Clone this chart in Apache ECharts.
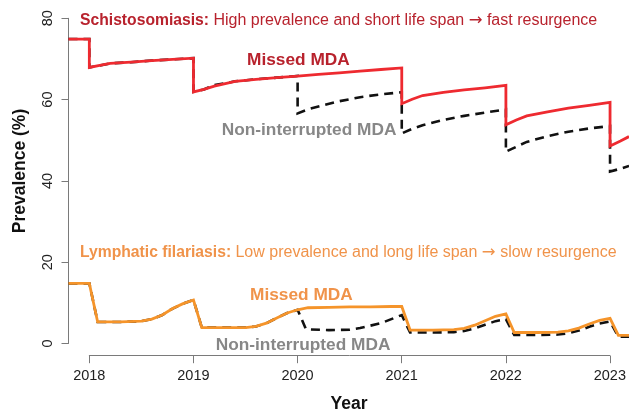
<!DOCTYPE html>
<html>
<head>
<meta charset="utf-8">
<script src="https://cdn.jsdelivr.net/npm/echarts@6/dist/echarts.min.js"></script>
<style>
  html, body { margin: 0; padding: 0; background: #ffffff; }
  #chart { width: 629px; height: 413px; }
</style>
</head>
<body>
<div id="chart"></div>
<script>
// ---- Data ----
const yearTicks = [2018, 2019, 2020, 2021, 2022, 2023];
const prevalenceTicks = [0, 20, 40, 60, 80];

// Schistosomiasis – missed MDA (red, solid)
const schMissedYears = [2017.8, 2018.0, 2018.0, 2018.1, 2018.2, 2018.4, 2018.6, 2018.8, 2019.0, 2019.0, 2019.1, 2019.2, 2019.4, 2019.6, 2019.8, 2020.0, 2020.2, 2020.4, 2020.6, 2020.8, 2021.0, 2021.0, 2021.1, 2021.2, 2021.4, 2021.6, 2021.8, 2022.0, 2022.0, 2022.1, 2022.2, 2022.4, 2022.6, 2022.8, 2023.0, 2023.0, 2023.1, 2023.182];
const schMissedPrev  = [74.9, 74.9, 67.9, 68.4, 68.9, 69.2, 69.6, 69.9, 70.2, 61.9, 62.5, 63.3, 64.5, 65.0, 65.4, 65.8, 66.2, 66.6, 67.0, 67.4, 67.8, 59.0, 60.1, 61.0, 61.8, 62.4, 62.9, 63.5, 53.8, 55.0, 56.0, 57.0, 57.9, 58.6, 59.3, 48.6, 49.8, 50.9];

// Schistosomiasis – non-interrupted MDA (black, dashed)
const schNonIntYears = [2017.8, 2018.0, 2018.0, 2018.1, 2018.2, 2018.4, 2018.6, 2018.8, 2019.0, 2019.0, 2019.1, 2019.2, 2019.3, 2019.4, 2019.6, 2019.8, 2020.0, 2020.0, 2020.1, 2020.2, 2020.4, 2020.6, 2020.8, 2021.0, 2021.0, 2021.1, 2021.2, 2021.4, 2021.6, 2021.8, 2022.0, 2022.0, 2022.1, 2022.2, 2022.4, 2022.6, 2022.8, 2023.0, 2023.0, 2023.1, 2023.182];
const schNonIntPrev  = [74.9, 74.9, 67.9, 68.4, 68.9, 69.2, 69.6, 69.9, 70.2, 61.9, 62.5, 63.6, 64.0, 64.5, 65.0, 65.4, 65.8, 56.6, 57.6, 58.3, 59.6, 60.6, 61.3, 61.8, 51.7, 52.8, 53.7, 55.0, 56.0, 56.8, 57.6, 47.2, 48.4, 49.6, 51.0, 52.1, 52.9, 53.5, 42.3, 43.0, 43.7];

// Lymphatic filariasis – missed MDA (orange, solid)
const lfMissedYears = [2017.8, 2018.0, 2018.08, 2018.3, 2018.5, 2018.6, 2018.7, 2018.8, 2018.9, 2019.0, 2019.08, 2019.3, 2019.5, 2019.6, 2019.7, 2019.8, 2019.9, 2020.0, 2020.1, 2020.3, 2020.5, 2020.7, 2020.9, 2021.0, 2021.08, 2021.3, 2021.5, 2021.6, 2021.7, 2021.8, 2021.9, 2022.0, 2022.08, 2022.3, 2022.5, 2022.6, 2022.7, 2022.8, 2022.9, 2023.0, 2023.08, 2023.182];
const lfMissedPrev  = [14.8, 14.8, 5.3, 5.3, 5.5, 6.0, 7.0, 8.6, 9.8, 10.7, 3.9, 3.9, 3.9, 4.2, 5.0, 6.3, 7.5, 8.3, 8.8, 8.9, 9.0, 9.0, 9.1, 9.1, 3.3, 3.3, 3.4, 3.7, 4.5, 5.6, 6.7, 7.3, 2.7, 2.7, 2.8, 3.1, 3.8, 4.8, 5.7, 6.2, 2.0, 2.0];

// Lymphatic filariasis – non-interrupted MDA (black, dashed)
const lfNonIntYears = [2017.8, 2018.0, 2018.08, 2018.3, 2018.5, 2018.6, 2018.7, 2018.8, 2018.9, 2019.0, 2019.08, 2019.3, 2019.5, 2019.6, 2019.7, 2019.8, 2019.9, 2020.0, 2020.08, 2020.3, 2020.5, 2020.6, 2020.7, 2020.8, 2020.9, 2021.0, 2021.08, 2021.3, 2021.5, 2021.6, 2021.7, 2021.8, 2021.9, 2022.0, 2022.08, 2022.3, 2022.5, 2022.6, 2022.7, 2022.8, 2022.9, 2023.0, 2023.08, 2023.182];
const lfNonIntPrev  = [14.8, 14.8, 5.3, 5.3, 5.5, 6.0, 7.0, 8.6, 9.8, 10.7, 3.9, 3.9, 3.9, 4.2, 5.0, 6.3, 7.5, 8.3, 3.5, 3.3, 3.4, 3.8, 4.4, 5.0, 6.0, 7.0, 2.7, 2.7, 2.8, 3.1, 3.7, 4.6, 5.5, 6.0, 2.1, 2.1, 2.2, 2.5, 3.2, 4.1, 4.9, 5.4, 1.7, 1.7];

// ---- Styling ----
const FONT = "'Liberation Sans', Arial, Helvetica, sans-serif";
const ARROW_FONT = "'DejaVu Sans', 'Liberation Sans', sans-serif";
const RED_LINE = '#ee2a30';
const RED_TEXT = '#b8222d';
const ORANGE_LINE = '#f5942a';
const ORANGE_TEXT = '#f0934a';
const GRAY_TEXT = '#878787';
const AXIS_GRAY = '#7a7a7a';

function pairs(xs, ys) { return xs.map((x, i) => [x, ys[i]]); }

function lineSeries(xs, ys, color, dashed, z) {
  return {
    type: 'line',
    xAxisIndex: 0, yAxisIndex: 0,
    data: pairs(xs, ys),
    showSymbol: false,
    symbol: 'none',
    smooth: false,
    clip: true,
    z: z,
    lineStyle: { color: color, width: dashed ? 2.6 : 2.8, type: dashed ? [9, 6] : 'solid', cap: 'butt', join: 'miter' },
    emphasis: { disabled: true },
    silent: true
  };
}

function richTitle(color) {
  return {
    b: { fontFamily: FONT, fontSize: 15.7, fontWeight: 'bold', fill: color, color: color },
    r: { fontFamily: FONT, fontSize: 16, fontWeight: 'normal', fill: color, color: color },
    a: { fontFamily: ARROW_FONT, fontSize: 16.5, fontWeight: 'normal', fill: color, color: color }
  };
}

const chart = echarts.init(document.getElementById('chart'), null, { renderer: 'canvas' });

const option = {
  animation: false,
  backgroundColor: '#ffffff',
  textStyle: { fontFamily: FONT },
  grid: [
    { left: 68.5, right: 0, top: 18.3, bottom: 69.5, containLabel: false },
    { left: 89.3, right: 19, top: 18.3, bottom: 57.3, containLabel: false }
  ],
  xAxis: [
    { gridIndex: 0, type: 'value', min: 2017.8, max: 2023.182, show: false },
    {
      gridIndex: 1, type: 'value', min: yearTicks[0], max: yearTicks[yearTicks.length - 1], interval: 1,
      axisLine: { show: true, lineStyle: { color: AXIS_GRAY, width: 1 } },
      axisTick: { show: true, length: 7.5, lineStyle: { color: AXIS_GRAY, width: 1 } },
      axisLabel: { show: true, margin: 13, fontSize: 14.5, color: '#222222', fontFamily: FONT, showMinLabel: true, showMaxLabel: true,
        formatter: v => String(Math.round(v)) },
      splitLine: { show: false }
    }
  ],
  yAxis: [
    {
      gridIndex: 0, type: 'value', min: prevalenceTicks[0], max: prevalenceTicks[prevalenceTicks.length - 1], interval: 20,
      axisLine: { show: true, lineStyle: { color: AXIS_GRAY, width: 1 } },
      axisTick: { show: true, length: 7, lineStyle: { color: AXIS_GRAY, width: 1 } },
      axisLabel: { show: true, rotate: 90, margin: 13, fontSize: 14.5, color: '#222222', fontFamily: FONT, showMinLabel: true, showMaxLabel: true },
      splitLine: { show: false }
    },
    { gridIndex: 1, type: 'value', min: 0, max: 1, show: false }
  ],
  series: [
    lineSeries(schNonIntYears, schNonIntPrev, '#111111', true, 2),
    lineSeries(lfNonIntYears, lfNonIntPrev, '#111111', true, 2),
    lineSeries(schMissedYears, schMissedPrev, RED_LINE, false, 3),
    lineSeries(lfMissedYears, lfMissedPrev, ORANGE_LINE, false, 3)
  ],
  graphic: [
    {
      type: 'text', x: 80, y: 21, silent: true,
      style: {
        text: '{b|Schistosomiasis: }{r|High prevalence and short life span }{a|\u2192}{r| fast resurgence}',
        verticalAlign: 'middle', align: 'left',
        rich: richTitle(RED_TEXT)
      }
    },
    {
      type: 'text', x: 247, y: 60, silent: true,
      style: { text: 'Missed MDA', fontFamily: FONT, fontSize: 17.3, fontWeight: 'bold', fill: RED_TEXT, verticalAlign: 'middle', align: 'left' }
    },
    {
      type: 'text', x: 221.7, y: 130, silent: true,
      style: { text: 'Non-interrupted MDA', fontFamily: FONT, fontSize: 17.3, fontWeight: 'bold', fill: GRAY_TEXT, verticalAlign: 'middle', align: 'left' }
    },
    {
      type: 'text', x: 80, y: 252.5, silent: true,
      style: {
        text: '{b|Lymphatic filariasis: }{r|Low prevalence and long life span }{a|\u2192}{r| slow resurgence}',
        verticalAlign: 'middle', align: 'left',
        rich: richTitle(ORANGE_TEXT)
      }
    },
    {
      type: 'text', x: 250, y: 295, silent: true,
      style: { text: 'Missed MDA', fontFamily: FONT, fontSize: 17.3, fontWeight: 'bold', fill: ORANGE_TEXT, verticalAlign: 'middle', align: 'left' }
    },
    {
      type: 'text', x: 215.7, y: 345, silent: true,
      style: { text: 'Non-interrupted MDA', fontFamily: FONT, fontSize: 17.3, fontWeight: 'bold', fill: GRAY_TEXT, verticalAlign: 'middle', align: 'left' }
    },
    {
      type: 'text', x: 349, y: 404.5, silent: true,
      style: { text: 'Year', fontFamily: FONT, fontSize: 17.5, fontWeight: 'bold', fill: '#111111', verticalAlign: 'middle', align: 'center' }
    },
    {
      type: 'text', x: 20, y: 171, rotation: Math.PI / 2, silent: true,
      style: { text: 'Prevalence (%)', fontFamily: FONT, fontSize: 17.5, fontWeight: 'bold', fill: '#111111', verticalAlign: 'middle', align: 'center' }
    }
  ]
};

chart.setOption(option);
</script>
</body>
</html>
